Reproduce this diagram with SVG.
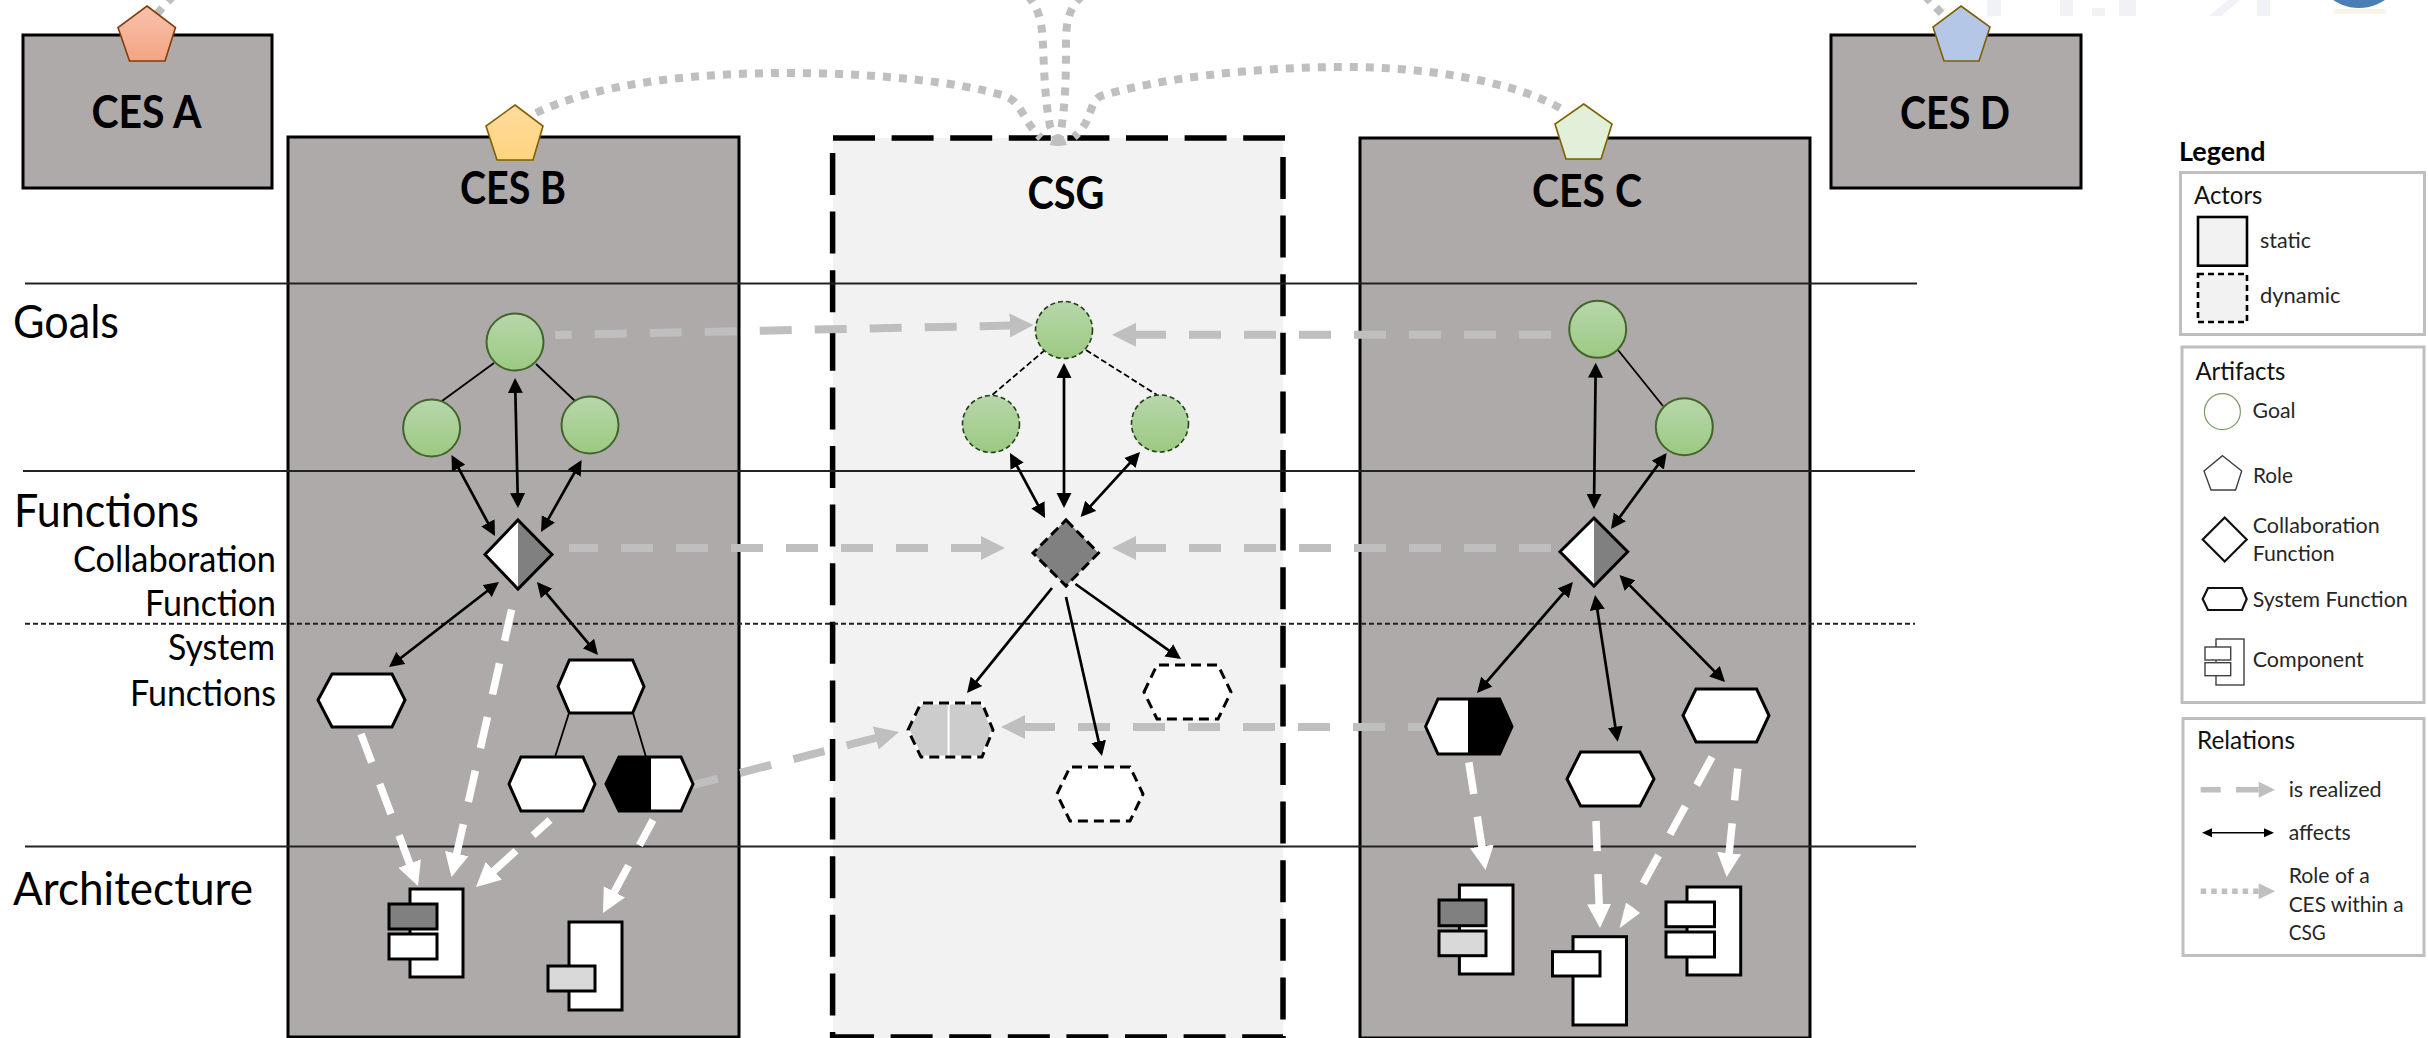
<svg xmlns="http://www.w3.org/2000/svg" width="2428" height="1038" viewBox="0 0 2428 1038">
<style>
text{font-family:"Lato","Carlito","Liberation Sans",sans-serif;fill:#000}
.ces{fill:#aeaaaa;stroke:#000;stroke-width:3}
.h{font-weight:700;font-size:46px;text-anchor:middle}
.big{font-size:47px}
.mid{font-size:37px;text-anchor:end}
.leg{font-size:21px;fill:#262626}
.legh{font-size:25px;fill:#111}
.csgb{stroke:#000;stroke-width:5.5;stroke-dasharray:42 16.6;fill:none}
.g{stroke:#222;stroke-width:2;fill:none}
.ga{fill:url(#green);stroke:#41652a;stroke-width:2}
.gd{fill:url(#green);stroke:#23401a;stroke-width:1.6;stroke-dasharray:5 3}
.n{fill:#fff;stroke:#000;stroke-width:3}
.nd{fill:#fff;stroke:#000;stroke-width:3;stroke-dasharray:10 6}
.o{fill:none;stroke:#000;stroke-width:3}
.a{fill:none;stroke:#000;stroke-width:2.7;marker-start:url(#ah);marker-end:url(#ah)}
.a1{fill:none;stroke:#000;stroke-width:2.7;marker-end:url(#ah)}
.t{fill:none;stroke:#000;stroke-width:1.8}
.rg{fill:none;stroke:#bfbfbf;stroke-width:8;stroke-dasharray:32 23;marker-start:url(#hg)}
.rw{fill:none;stroke:#fff;stroke-width:7.5;stroke-dasharray:32 23;marker-start:url(#hw)}
.rw0{fill:none;stroke:#fff;stroke-width:7.5;stroke-dasharray:32 24}
.dot{fill:none;stroke:#bfbfbf;stroke-width:8;stroke-dasharray:8 8}
.lb{fill:#fff;stroke:#bfbfbf;stroke-width:3}
</style>
<defs>
<linearGradient id="green" x1="0" y1="0" x2="0" y2="1"><stop offset="0" stop-color="#b7d7aa"/><stop offset="1" stop-color="#9cc982"/></linearGradient>
<linearGradient id="pa" x1="0" y1="0" x2="0" y2="1"><stop offset="0" stop-color="#f8c2ac"/><stop offset="1" stop-color="#f4a482"/></linearGradient>
<linearGradient id="pb" x1="0" y1="0" x2="0" y2="1"><stop offset="0" stop-color="#ffdc9e"/><stop offset="1" stop-color="#ffd37f"/></linearGradient>
<marker id="ah" markerUnits="userSpaceOnUse" markerWidth="16" markerHeight="16" refX="12" refY="8" orient="auto-start-reverse"><path d="M0 0.5L15 8L0 15.5Z" fill="#000"/></marker>
<marker id="ahs" markerUnits="userSpaceOnUse" markerWidth="11" markerHeight="10" refX="8" refY="5" orient="auto-start-reverse"><path d="M0 0.5L10 5L0 9.5Z" fill="#000"/></marker>
<marker id="hg" markerUnits="userSpaceOnUse" markerWidth="25" markerHeight="25" refX="2" refY="12.5" orient="auto-start-reverse"><path d="M0 0.5L24 12.5L0 24.5Z" fill="#bfbfbf"/></marker>
<marker id="hw" markerUnits="userSpaceOnUse" markerWidth="25" markerHeight="25" refX="2" refY="12.5" orient="auto-start-reverse"><path d="M0 0.5L24 12.5L0 24.5Z" fill="#fff"/></marker>
</defs>

<g id="backdrop">
<g fill="#f1f2f6"><rect x="1987" y="0" width="14" height="16"/><rect x="2060" y="0" width="13" height="16"/><rect x="2092" y="8" width="13" height="8"/><rect x="2119" y="0" width="17" height="16"/><path d="M2228 0H2240L2221 16H2209Z"/><rect x="2257" y="0" width="13" height="16"/></g>
<rect x="2334" y="9" width="52" height="5" fill="#f9f3e8"/>
<circle cx="2359" cy="-38" r="46" fill="#4a7fb5"/>
</g>

<g id="ces-a-box"><rect class="ces" x="23" y="35" width="249" height="153"/><text class="h" x="146.5" y="128" textLength="110" lengthAdjust="spacingAndGlyphs">CES A</text></g>
<g id="ces-b-box"><rect class="ces" x="288" y="137" width="451" height="900"/><text class="h" x="513" y="204" textLength="106" lengthAdjust="spacingAndGlyphs">CES B</text></g>
<g id="csg-box"><rect x="833" y="138" width="450" height="900" fill="#f2f2f2"/>
<path class="csgb" d="M833 138H1285"/><path class="csgb" d="M832.6 153V1038"/><path class="csgb" d="M1283 157V1038"/><path class="csgb" d="M832 1037H1283"/>
<text class="h" x="1066" y="209" textLength="77" lengthAdjust="spacingAndGlyphs">CSG</text></g>
<g id="ces-c-box"><rect class="ces" x="1360" y="138" width="450" height="900"/><text class="h" x="1587" y="207" textLength="110" lengthAdjust="spacingAndGlyphs">CES C</text></g>
<g id="ces-d-box"><rect class="ces" x="1831" y="35" width="250" height="153"/><text class="h" x="1955" y="129" textLength="110" lengthAdjust="spacingAndGlyphs">CES D</text></g>

<g id="layers">
<path class="g" d="M25 283.5H1917M23 471H1915M25 846.5H1916"/>
<path class="g" stroke-dasharray="5 3" d="M25 623.7H1915"/>
<text class="big" x="13" y="338" textLength="106" lengthAdjust="spacingAndGlyphs">Goals</text>
<text class="big" x="14" y="527" textLength="185" lengthAdjust="spacingAndGlyphs">Functions</text>
<text class="big" x="13" y="905" textLength="240" lengthAdjust="spacingAndGlyphs">Architecture</text>
<text class="mid" x="276" y="572" textLength="203" lengthAdjust="spacingAndGlyphs">Collaboration</text>
<text class="mid" x="276" y="616" textLength="131" lengthAdjust="spacingAndGlyphs">Function</text>
<text class="mid" x="275" y="660" textLength="107" lengthAdjust="spacingAndGlyphs">System</text>
<text class="mid" x="276" y="706" textLength="146" lengthAdjust="spacingAndGlyphs">Functions</text>
</g>

<g id="connectors">
<path class="dot" d="M173 -4L155 16"/>
<path class="dot" d="M1925 -4L1950 22"/>
<path class="dot" d="M536 113C600 82 700 72 803 73C880 74 960 82 1005 96C1022 102 1022 120 1041 138"/>
<path class="dot" d="M1560 108C1510 80 1420 66 1336 67C1250 68 1160 78 1101 96C1088 102 1094 120 1074 137"/>
<path class="dot" d="M1028 -4C1042 12 1042 30 1043 45C1044 70 1045 100 1050 126L1055 137"/>
<path class="dot" d="M1082 -4C1068 8 1066 25 1066 43C1066 70 1066 95 1062 124L1060 137"/>
<path d="M1050 145C1052 137 1056 134 1058 134C1062 134 1065 138 1066.7 145Q1058 147 1050 145Z" fill="#bfbfbf"/>

<path class="rg" d="M1011.7 325.5L555 335"/>
<path class="rg" d="M1134 334.7L1555 334.7"/>
<path class="rg" d="M983 548L569 548"/>
<path class="rg" d="M1134 548L1552 548"/>
<path class="rg" d="M1023 727L1425 727"/>
<path class="rg" d="M877.7 737.5L693 785"/>

<path class="rw" d="M410.3 865.4L361 734"/>
<path class="rw" d="M456.3 855.5L514 599"/>
<path class="rw" d="M492.3 872.2L550 820"/>
<path class="rw" d="M613.4 893.6L653 820"/>
<path class="rw" d="M1482.2 848.3L1468 757"/>
<path class="rw" d="M1599.2 906L1596 821"/>
<path class="rw0" d="M1712 757L1643 884"/>
<path d="M1619.5 928.3L1640 913L1632 906.7L1626 902.7Z" fill="#fff"/>
<path class="rw" d="M1728.9 855.1L1739 757"/>

<path class="t" d="M494 363L442 401M536 364L575 401M569 713L555 757M633 713L646 757M1618 350L1663 406"/>
<path class="t" stroke-dasharray="6 3" d="M1045 350L991 396M1086 350L1157 395"/>

<path class="a" d="M515.1 381L517.9 505"/>
<path class="a" d="M452.9 457.6L493.6 533.4"/>
<path class="a" d="M580.1 462.6L542.5 529.4"/>
<path class="a" d="M496.6 583.8L391.4 665.2"/>
<path class="a" d="M538.9 584.3L596.1 652.7"/>
<path class="a" d="M1064 366L1064 505"/>
<path class="a" d="M1011.4 455.6L1043.6 515.4"/>
<path class="a" d="M1138 454.2L1082.6 514.8"/>
<path class="a1" d="M1052 588L968.9 690.7"/>
<path class="a1" d="M1066 597L1101.3 753.1"/>
<path class="a1" d="M1075.5 584L1178.6 657.3"/>
<path class="a" d="M1595.7 365.7L1594 506"/>
<path class="a" d="M1664.9 455.4L1612.8 526.6"/>
<path class="a" d="M1571 584.3L1479 690.7"/>
<path class="a" d="M1595.5 598L1617.2 738.7"/>
<path class="a" d="M1621.6 577.1L1722.9 679.9"/>
</g>

<g id="role-a"><polygon points="147,6 175.5,27.5 165,61 129.5,61 118,27.5" fill="url(#pa)" stroke="#843c0c" stroke-width="1.6"/></g>
<g id="role-b"><polygon points="515,105 543,126 533,160 497,160 486,126" fill="url(#pb)" stroke="#7f6000" stroke-width="1.6"/></g>
<g id="role-c"><polygon points="1583.7,104 1612,124 1601,159 1566,159 1555,124" fill="#e2efd9" stroke="#7f6000" stroke-width="1.6"/></g>
<g id="role-d"><polygon points="1961,6 1990,27 1979,61 1944,61 1933,27" fill="#b4c7e7" stroke="#7f6000" stroke-width="1.6"/></g>

<g id="goal-b1"><circle class="ga" cx="515" cy="342" r="28.5"/></g>
<g id="goal-b2"><circle class="ga" cx="431.6" cy="428" r="28.5"/></g>
<g id="goal-b3"><circle class="ga" cx="590" cy="425" r="28.5"/></g>
<g id="goal-g1"><circle class="gd" cx="1064" cy="330" r="28.5"/></g>
<g id="goal-g2"><circle class="gd" cx="991" cy="424" r="28.5"/></g>
<g id="goal-g3"><circle class="gd" cx="1160" cy="423.5" r="28.5"/></g>
<g id="goal-c1"><circle class="ga" cx="1597.7" cy="329.3" r="28.5"/></g>
<g id="goal-c2"><circle class="ga" cx="1684.3" cy="426.7" r="28.5"/></g>

<g id="collab-b"><polygon points="518,520 552,554.5 518,589 485,554.5" fill="#fff"/><polygon points="518,520 552,554.5 518,589" fill="#808080"/><polygon class="o" points="518,520 552,554.5 518,589 485,554.5"/></g>
<g id="collab-g"><polygon points="1066,520 1098.5,553 1066,586 1033,553" fill="#808080" stroke="#000" stroke-width="3" stroke-dasharray="10 5"/></g>
<g id="collab-c"><polygon points="1594,518 1627.7,551.7 1594,586 1560,551.7" fill="#fff"/><polygon points="1594,518 1627.7,551.7 1594,586" fill="#808080"/><polygon class="o" points="1594,518 1627.7,551.7 1594,586 1560,551.7"/></g>

<g id="sys-b1"><polygon class="n" points="318,700 332,674 392,674 405,700 392,727 332,727"/></g>
<g id="sys-b2"><polygon class="n" points="558,686.5 569.4,660 632.6,660 644,686.5 632.6,713 569.4,713"/></g>
<g id="sys-b3"><polygon class="n" points="509,784 521,757 583,757 595,784 583,811 521,811"/></g>
<g id="sys-b4"><polygon class="n" points="606,784 619,757 681,757 693,784 681,811 619,811"/><polygon points="606,784 619,757 651,757 651,811 619,811" fill="#000"/></g>

<g id="sys-g1"><polygon points="908,730 921,703 982,703 993,730 982,757 921,757" fill="#cccccc" stroke="#fff" stroke-width="3"/><path d="M948.6 703V757" stroke="#fff" stroke-width="2"/><polygon points="908,730 921,703 982,703 993,730 982,757 921,757" fill="none" stroke="#000" stroke-width="3" stroke-dasharray="10 6"/></g>
<g id="sys-g2"><polygon class="nd" points="1144,692 1157,665 1218,665 1231,692 1218,719 1157,719"/></g>
<g id="sys-g3"><polygon class="nd" points="1057,794 1070,767 1130,767 1143,794 1130,821 1070,821"/></g>

<g id="sys-c1"><polygon class="n" points="1425.6,726.5 1438,699 1499.6,699 1512,726.5 1499.6,754 1438,754"/><polygon points="1468,699 1499.6,699 1512,726.5 1499.6,754 1468,754" fill="#000"/></g>
<g id="sys-c2"><polygon class="n" points="1567,779 1580.6,752 1640,752 1654,779 1640,806 1580.6,806"/></g>
<g id="sys-c3"><polygon class="n" points="1683,715.5 1696,689 1756.6,689 1769,715.5 1756.6,742 1696,742"/></g>

<g id="comp-b1"><rect class="n" x="410" y="889" width="53" height="88"/><rect class="n" x="389" y="904" width="48" height="25" style="fill:#808080"/><rect class="n" x="389" y="934" width="48" height="25"/></g>
<g id="comp-b2"><rect class="n" x="569" y="922" width="53" height="88"/><rect class="n" x="548" y="966" width="47" height="25" style="fill:#d9d9d9"/></g>
<g id="comp-c1"><rect class="n" x="1459.4" y="885" width="53.6" height="89"/><rect class="n" x="1439" y="900" width="47" height="25.7" style="fill:#808080"/><rect class="n" x="1439" y="931" width="47" height="24.7" style="fill:#d9d9d9"/></g>
<g id="comp-c2"><rect class="n" x="1573" y="936.7" width="53.5" height="88.3"/><rect class="n" x="1552.5" y="951.7" width="47.5" height="24.3"/></g>
<g id="comp-c3"><rect class="n" x="1687" y="887" width="53.7" height="88"/><rect class="n" x="1666" y="902" width="48.5" height="24.7"/><rect class="n" x="1666" y="932" width="48.5" height="25"/></g>

<g id="legend">
<text x="2179" y="161" font-size="27" font-weight="700" textLength="86.5" lengthAdjust="spacingAndGlyphs">Legend</text>
<g id="legend-actors">
<rect class="lb" x="2180.5" y="172.5" width="244" height="162"/>
<text class="legh" x="2194" y="204" textLength="68.4" lengthAdjust="spacingAndGlyphs">Actors</text>
<rect x="2198" y="217" width="49" height="48.7" fill="#f2f2f2" stroke="#000" stroke-width="2.6"/>
<rect x="2198" y="274" width="49" height="48" fill="#f2f2f2" stroke="#000" stroke-width="2.6" stroke-dasharray="6 4"/>
<text class="leg" x="2260" y="248" textLength="51" lengthAdjust="spacingAndGlyphs">static</text>
<text class="leg" x="2260" y="303" textLength="80.5" lengthAdjust="spacingAndGlyphs">dynamic</text>
</g>
<g id="legend-artifacts">
<rect class="lb" x="2182" y="347" width="242" height="355.5"/>
<text class="legh" x="2195.4" y="380" textLength="90" lengthAdjust="spacingAndGlyphs">Artifacts</text>
<circle cx="2222.4" cy="411.7" r="18" fill="#fff" stroke="#7d9a68" stroke-width="1.2"/>
<text class="leg" x="2252.5" y="418" textLength="43" lengthAdjust="spacingAndGlyphs">Goal</text>
<polygon points="2222.5,455.7 2241.7,471 2235.6,490 2211,490 2204,471" fill="#fff" stroke="#404040" stroke-width="1.4"/>
<text class="leg" x="2253" y="483" textLength="40" lengthAdjust="spacingAndGlyphs">Role</text>
<polygon points="2224.7,517.5 2246.7,539.5 2224.7,561.5 2202.7,539.5" fill="#fff" stroke="#111" stroke-width="2.2"/>
<text class="leg" x="2252.7" y="533" textLength="127" lengthAdjust="spacingAndGlyphs">Collaboration</text>
<text class="leg" x="2252.7" y="561" textLength="82" lengthAdjust="spacingAndGlyphs">Function</text>
<polygon points="2202.7,599 2208,588 2242,588 2246.7,599 2242,610 2208,610" fill="#fff" stroke="#111" stroke-width="2.2"/>
<text class="leg" x="2252.7" y="607" textLength="155" lengthAdjust="spacingAndGlyphs">System Function</text>
<rect x="2216" y="639" width="28" height="46" fill="#fff" stroke="#404040" stroke-width="1.4"/>
<rect x="2205" y="647" width="25.7" height="13" fill="#fff" stroke="#404040" stroke-width="1.4"/>
<rect x="2205" y="662.7" width="25.7" height="13" fill="#fff" stroke="#404040" stroke-width="1.4"/>
<text class="leg" x="2252.7" y="666.7" textLength="111" lengthAdjust="spacingAndGlyphs">Component</text>
</g>
<g id="legend-relations">
<rect class="lb" x="2183" y="718.5" width="241" height="237"/>
<text class="legh" x="2197" y="749" textLength="98" lengthAdjust="spacingAndGlyphs">Relations</text>
<path d="M2200.7 789.7H2220.7M2236 789.7H2258.7" stroke="#bfbfbf" stroke-width="5.5" fill="none"/>
<path d="M2258.7 781.7L2275 789.7L2258.7 797.7Z" fill="#bfbfbf"/>
<text class="leg" x="2288.7" y="796.7" textLength="93" lengthAdjust="spacingAndGlyphs">is realized</text>
<path d="M2204 832.7H2272" stroke="#000" stroke-width="1.5" fill="none" marker-start="url(#ahs)" marker-end="url(#ahs)"/>
<text class="leg" x="2288.7" y="840" textLength="62" lengthAdjust="spacingAndGlyphs">affects</text>
<path d="M2200.7 891.3H2258.7" stroke="#bfbfbf" stroke-width="5.5" stroke-dasharray="5.5 5" fill="none"/>
<path d="M2258.7 883.3L2275 891.3L2258.7 899.3Z" fill="#bfbfbf"/>
<text class="leg" x="2288.7" y="883.3" textLength="81" lengthAdjust="spacingAndGlyphs">Role of a</text>
<text class="leg" x="2288.7" y="911.7" textLength="115" lengthAdjust="spacingAndGlyphs">CES within a</text>
<text class="leg" x="2288.7" y="940" textLength="37" lengthAdjust="spacingAndGlyphs">CSG</text>
</g>
</g>
</svg>
